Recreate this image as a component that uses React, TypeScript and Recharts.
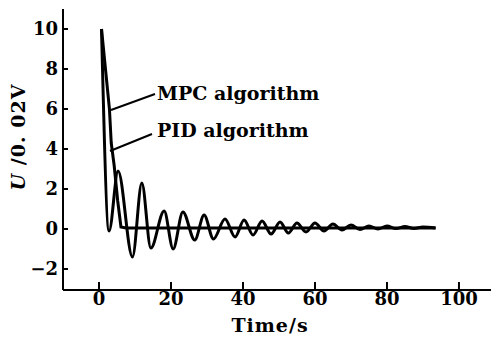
import React from "react";
import { LineChart, Line, XAxis, YAxis } from "recharts";

// PID response: oscillates and slowly settles
const pidTime = [0.7, 2.8, 5.3, 9.3, 11.9, 14.4, 18.1, 20.6, 23.3, 26.6, 29.2, 31.8, 35, 37.8, 40.3, 42.8, 45.3, 47.8, 50.3, 52.6, 55, 57.5, 60, 62.5, 65, 67.5, 70, 72.5, 75, 77.5, 80, 82.5, 85, 87.5, 90, 93.5];
const pidU = [10, -0.1, 2.9, -1.4, 2.3, -0.95, 0.9, -1.0, 0.85, -0.55, 0.7, -0.5, 0.5, -0.4, 0.45, -0.3, 0.4, -0.25, 0.35, -0.2, 0.3, -0.15, 0.3, -0.1, 0.25, -0.05, 0.2, -0.02, 0.15, 0, 0.15, 0.02, 0.12, 0.03, 0.1, 0.05];

// MPC response: fast, no oscillation
const mpcTime = [0.7, 2.9, 3.4, 4.2, 5.2, 6.1, 7.5, 93.5];
const mpcU = [10, 6, 4.3, 3.2, 1.4, 0.1, 0.05, 0.05];

const xTicks = [0, 20, 40, 60, 80, 100];
const yTicks = [-2, 0, 2, 4, 6, 8, 10];

const pid = pidTime.map((t, i) => ({ t, u: pidU[i] }));
const mpc = mpcTime.map((t, i) => ({ t, u: mpcU[i] }));

const font = "'DejaVu Serif', serif";
const tickStyle = { fill: "#000", fontSize: 18, fontWeight: "bold", fontFamily: font };

export default function App() {
  return (
    <div style={{ position: "absolute", left: 0, top: 0, width: 491, height: 340, overflow: "hidden", background: "#fff" }}>
      <LineChart width={491} height={340} margin={{ top: 9, right: 0, bottom: 20, left: 0 }}>
        <XAxis
          type="number"
          dataKey="t"
          domain={[-10, 108.9]}
          allowDataOverflow
          ticks={xTicks}
          height={30}
          tickSize={-8}
          tickMargin={10}
          axisLine={{ stroke: "#000", strokeWidth: 2 }}
          tickLine={{ stroke: "#000", strokeWidth: 2 }}
          tick={tickStyle}
        />
        <YAxis
          type="number"
          domain={[-3.05, 11]}
          allowDataOverflow
          ticks={yTicks}
          width={63}
          tickSize={-5}
          tickMargin={10}
          axisLine={{ stroke: "#000", strokeWidth: 2 }}
          tickLine={{ stroke: "#000", strokeWidth: 2 }}
          tick={tickStyle}
          tickFormatter={(v) => (v < 0 ? `\u2212${Math.abs(v)}` : `${v}`)}
        />
        <Line data={pid} dataKey="u" type="monotone" stroke="#000" strokeWidth={3} dot={false} isAnimationActive={false} />
        <Line data={mpc} dataKey="u" type="linear" stroke="#000" strokeWidth={3} dot={false} isAnimationActive={false} />
      </LineChart>

      <svg width={491} height={340} style={{ position: "absolute", left: 0, top: 0, pointerEvents: "none" }}>
        <line x1={111} y1={110} x2={155} y2={94} stroke="#000" strokeWidth={2} />
        <line x1={110} y1={151} x2={152} y2={134} stroke="#000" strokeWidth={2} />
        <text x={157} y={100} fontSize={19} fontWeight="bold" fontFamily={font}>MPC algorithm</text>
        <text x={157} y={137} fontSize={19} fontWeight="bold" fontFamily={font}>PID algorithm</text>
        <text x={270} y={332} fontSize={19} fontWeight="bold" fontFamily={font} textAnchor="middle" letterSpacing={1}>Time/s</text>
        <text
          x={18}
          y={137}
          fontSize={19}
          fontWeight="bold"
          fontFamily={font}
          textAnchor="middle"
          dominantBaseline="central"
          letterSpacing={1}
          transform="rotate(-90 18 137)"
        >
          <tspan fontStyle="italic">U</tspan> /0. 02V
        </text>
      </svg>
    </div>
  );
}
